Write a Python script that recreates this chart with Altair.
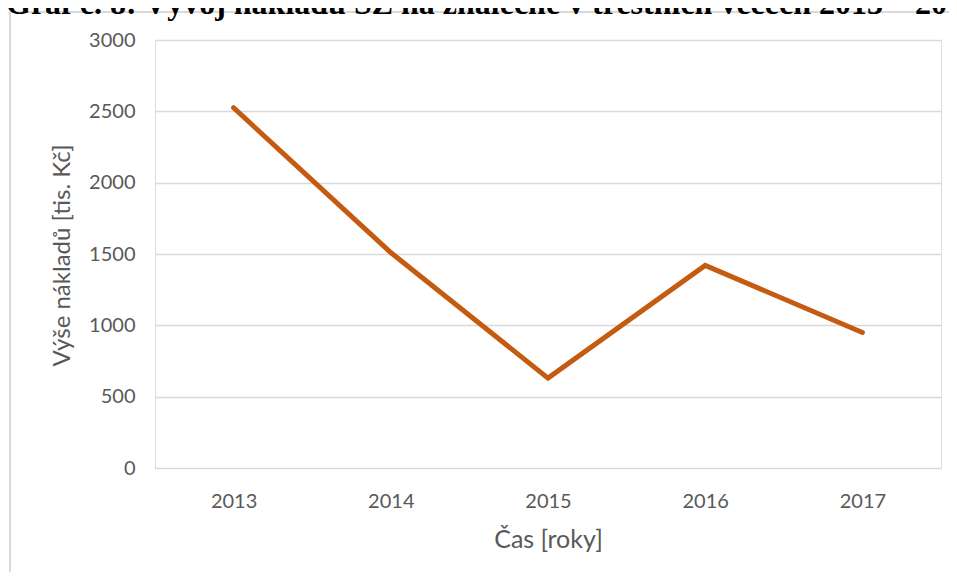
import altair as alt
import pandas as pd

years = ["2013", "2014", "2015", "2016", "2017"]
costs = [2525, 1510, 630, 1420, 950]
y_ticks = [0, 500, 1000, 1500, 2000, 2500, 3000]
title_text = "Graf č. 8: Vývoj nákladů SZ na znalečné v trestních věcech 2013 – 2017"
x_title = "Čas [roky]"
y_title = "Výše nákladů [tis. Kč]"

df = pd.DataFrame({"rok": years, "naklady": costs})

W, H = 786, 428
GRAY = "#595959"

line = alt.Chart(df).mark_line(
    color="#C55A11", strokeWidth=5, strokeCap="round", strokeJoin="miter"
).encode(
    x=alt.X("rok:O", scale=alt.Scale(type="point", padding=0.5),
            axis=alt.Axis(title=x_title, labelAngle=0, labelFont="Lato", labelFontSize=20,
                          labelColor=GRAY, labelPadding=23, ticks=False, domain=False, grid=False,
                          titleFont="Lato", titleFontSize=25, titleFontWeight="normal",
                          titleColor=GRAY, titleY=79, titleBaseline="alphabetic")),
    y=alt.Y("naklady:Q", scale=alt.Scale(domain=[0, 3000], nice=False),
            axis=alt.Axis(title=y_title, values=y_ticks, format="d", labelFont="Lato",
                          labelFontSize=20, labelColor=GRAY, labelPadding=20, ticks=False,
                          domain=False, grid=True, gridColor="#d9d9d9", gridWidth=1.5,
                          titleFont="Lato", titleFontSize=24, titleFontWeight="normal",
                          titleColor=GRAY, titleX=-86, titleY=215, titleBaseline="alphabetic")),
)

border = alt.Chart(pd.DataFrame({"b": [0]})).mark_rect(
    fill=None, stroke="#d9d9d9", strokeWidth=2
).encode(
    x=alt.value(-145), x2=alt.value(900), y=alt.value(-28), y2=alt.value(700)
)

title = alt.Chart(pd.DataFrame({"t": [title_text]})).mark_text(
    font="Liberation Serif", fontSize=32, fontWeight="bold", color="black",
    align="left", baseline="alphabetic"
).encode(
    text="t:N", x=alt.value(-149), y=alt.value(-26)
)

chart = alt.layer(border, line, title).properties(
    width=W, height=H,
    autosize=alt.AutoSizeParams(type="none"),
    padding={"left": 147, "top": 32, "right": 8, "bottom": 104},
).configure_view(stroke=None).configure(background="white")

chart.save("out.html", embed_options={"renderer": "svg", "actions": False})
